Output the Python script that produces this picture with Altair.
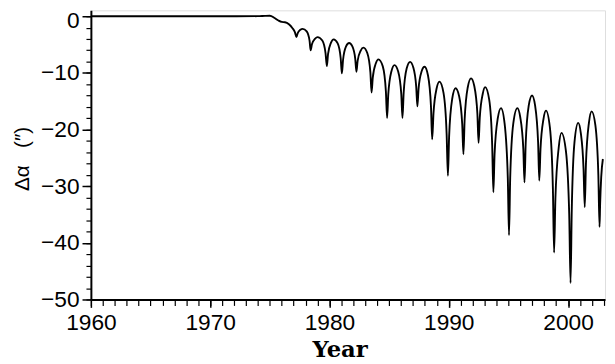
import altair as alt
import pandas as pd

years = [
    1960.00, 1970.00, 1974.00, 1974.60, 1975.00, 1975.40, 1975.72, 1976.00, 1976.27, 1976.60, 1976.90, 1977.10,
    1977.23, 1977.33, 1977.56, 1977.75, 1978.09, 1978.33,
    1978.42, 1978.53, 1978.80, 1979.00, 1979.40, 1979.67,
    1979.78, 1979.88, 1980.13, 1980.35, 1980.69, 1980.94,
    1981.04, 1981.14, 1981.38, 1981.65, 1981.92, 1982.16,
    1982.26, 1982.36, 1982.62, 1982.85, 1983.17, 1983.43,
    1983.53, 1983.63, 1983.89, 1984.10, 1984.47, 1984.73,
    1984.83, 1984.93, 1985.19, 1985.45, 1985.76, 1986.02,
    1986.12, 1986.22, 1986.47, 1986.76, 1987.02, 1987.27,
    1987.37, 1987.47, 1987.72, 1987.97, 1988.26, 1988.51,
    1988.61, 1988.72, 1988.98, 1989.22, 1989.56, 1989.82,
    1989.93, 1990.03, 1990.29, 1990.57, 1990.87, 1991.13,
    1991.23, 1991.33, 1991.59, 1991.87, 1992.14, 1992.40,
    1992.50, 1992.60, 1992.85, 1993.05, 1993.39, 1993.64,
    1993.74, 1993.84, 1994.11, 1994.38, 1994.68, 1994.95,
    1995.05, 1995.15, 1995.41, 1995.75, 1995.99, 1996.25,
    1996.35, 1996.45, 1996.70, 1996.98, 1997.24, 1997.49,
    1997.59, 1997.69, 1997.94, 1998.15, 1998.48, 1998.73,
    1998.83, 1998.94, 1999.22, 1999.45, 1999.82, 2000.10,
    2000.21, 2000.31, 2000.54, 2000.85, 2001.07, 2001.30,
    2001.40, 2001.50, 2001.75, 2001.98, 2002.29, 2002.54,
    2002.64, 2002.69, 2002.78, 2002.92,
]

delta_alpha = [
    0.00, 0.00, 0.02, 0.08, 0.10, -0.30, -0.75, -1.00, -1.05, -1.40, -2.10, -2.80,
    -3.67, -3.02, -2.39, -2.22, -2.67, -4.30,
    -6.00, -4.95, -3.95, -3.67, -4.28, -6.49,
    -8.79, -6.67, -4.64, -4.07, -4.79, -7.38,
    -10.09, -7.67, -5.36, -4.72, -5.33, -7.51,
    -9.79, -7.88, -6.05, -5.54, -6.49, -9.90,
    -13.46, -10.82, -8.30, -7.60, -8.84, -13.29,
    -17.95, -13.75, -9.74, -8.62, -9.74, -13.75,
    -17.95, -13.49, -9.23, -8.04, -8.98, -12.37,
    -15.91, -12.76, -9.76, -8.92, -10.46, -15.97,
    -21.73, -17.14, -12.76, -11.54, -13.53, -20.68,
    -28.15, -21.20, -14.56, -12.71, -14.11, -19.11,
    -24.35, -18.32, -12.57, -10.96, -12.32, -17.21,
    -22.33, -17.91, -13.68, -12.50, -14.73, -22.71,
    -31.07, -24.38, -17.99, -16.21, -18.90, -28.55,
    -38.64, -28.55, -18.90, -16.21, -17.78, -23.42,
    -29.32, -22.42, -15.83, -13.99, -15.79, -22.26,
    -29.02, -23.46, -18.14, -16.66, -19.67, -30.45,
    -41.73, -32.21, -23.12, -20.58, -23.76, -35.15,
    -47.08, -34.37, -22.22, -18.83, -20.61, -27.00,
    -33.69, -26.08, -18.81, -16.78, -19.23, -28.00,
    -37.18, -33.10, -28.40, -25.20,
]

x_major = [1960, 1970, 1980, 1990, 2000]
x_minor = list(range(1960, 2004))
y_major = [-50, -40, -30, -20, -10, 0]
y_minor = list(range(-50, 1, 2))

df = pd.DataFrame({"year": years, "da": delta_alpha})

FONT = "Liberation Sans"
xscale = alt.Scale(domain=[1960, 2003.1], nice=False, zero=False)
yscale = alt.Scale(domain=[-50, 1.05], nice=False, zero=False)

line = alt.Chart(df).mark_line(
    color="black", strokeWidth=1.9, interpolate="monotone", clip=True
).encode(
    x=alt.X("year:Q", scale=xscale, axis=alt.Axis(
        orient="bottom", values=x_major, format="d", title="Year",
        tickSize=8, tickWidth=1.5, tickColor="black",
        domainColor="black", domainWidth=2,
        labelFont=FONT, labelFontSize=23, labelColor="black", labelPadding=4,
        labelFlush=False, labelOverlap=False,
        titleFont="DejaVu Serif", titleFontWeight="bold", titleFontSize=23,
        titleColor="black", titleX=252, titleY=58, titleAlign="center",
        titleBaseline="alphabetic", grid=False)),
    y=alt.Y("da:Q", scale=yscale, axis=alt.Axis(
        orient="left", values=y_major, format="d", title="Δα\u00a0\u00a0\u00a0(″)",
        tickSize=9, tickWidth=1.5, tickColor="black",
        domainColor="black", domainWidth=2,
        labelFont=FONT, labelFontSize=23, labelColor="black", labelPadding=3,
        labelOffset=alt.condition("datum.value == 0", alt.value(4), alt.value(0)),
        labelFlush=False, labelOverlap=False,
        titleFont=FONT, titleFontWeight="normal", titleFontSize=21,
        titleColor="black", titleAngle=-90, titleX=-63, titleY=150,
        titleAlign="center", titleBaseline="alphabetic", grid=False)),
)

minor = alt.Chart(df).mark_point(opacity=0, size=0).encode(
    x=alt.X("year:Q", scale=xscale, axis=alt.Axis(
        orient="bottom", values=x_minor, labels=False, title=None,
        tickSize=6, tickWidth=1.2, tickColor="black", domain=False, grid=False)),
    y=alt.Y("da:Q", scale=yscale, axis=alt.Axis(
        orient="left", values=y_minor, labels=False, title=None,
        tickSize=5, tickWidth=1.2, tickColor="black", domain=False, grid=False)),
)

chart = alt.layer(minor, line).resolve_axis(
    x="independent", y="independent"
).properties(
    width=521, height=293,
    autosize=alt.AutoSizeParams(type="none"),
    padding={"left": 84, "top": 0, "right": 2, "bottom": 62},
).configure_view(
    stroke="black", strokeWidth=2
).configure(background="white")

chart.save("out.html", embed_options={"renderer": "svg", "actions": False})
